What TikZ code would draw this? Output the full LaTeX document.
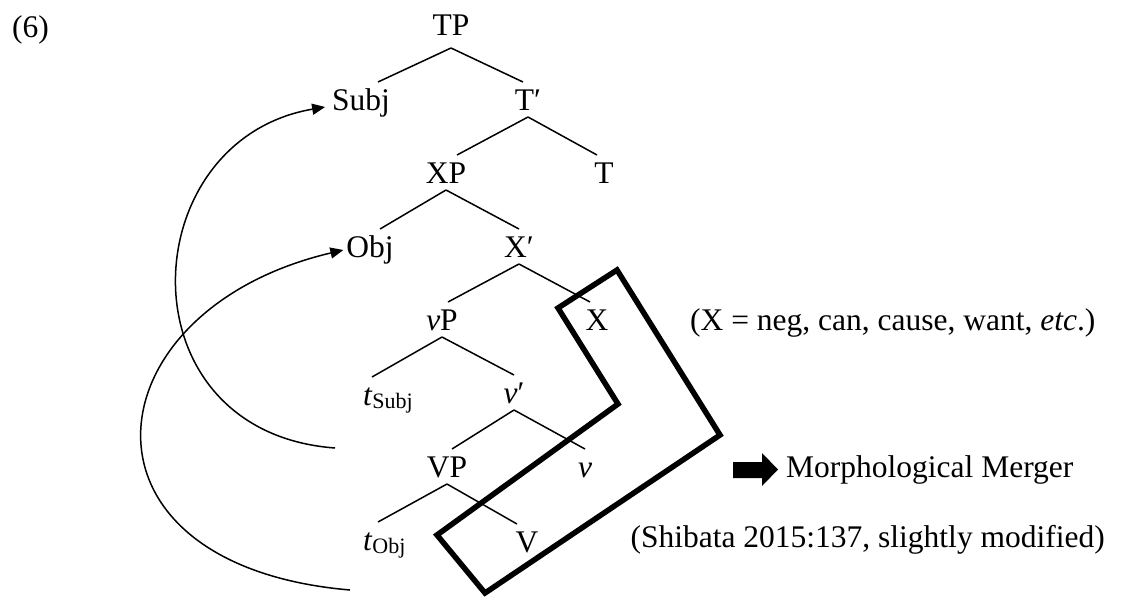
\documentclass[tikz,border=0pt]{standalone}
\usepackage{fontspec}
\setmainfont{Liberation Serif}
\usetikzlibrary{arrows.meta}
\begin{document}
\begin{tikzpicture}[x=1pt,y=-1pt,
  lab/.style={font=\fontsize{31.5}{38}\selectfont, inner sep=0pt, outer xsep=0pt, outer ysep=7pt, text height=21pt, text depth=0pt, anchor=base},
  txt/.style={font=\fontsize{31.5}{38}\selectfont, inner sep=0pt},
  br/.style={line width=1.5pt},
  mv/.style={line width=1.5pt, -{Triangle[length=13pt,width=11pt]}},
  boxline/.style={line width=5.5pt, line join=miter}]
\useasboundingbox (0,0) rectangle (1124,598);
% example number
\node[txt, anchor=base west] (num) at (12,37) {(6)};
% tree nodes
\node[lab] (TP) at (451,35) {TP};
\node[lab] (Subj) at (361,110) {Subj};
\node[lab] (Tb) at (528,110) {T′};
\node[lab] (XP) at (446,183) {XP};
\node[lab] (T) at (604,183) {T};
\node[lab] (Obj) at (370,257) {Obj};
\node[lab] (Xb) at (519,257) {X′};
\node[lab] (vP) at (442,330) {\textit{v}P};
\node[lab] (X) at (597,330) {X};
\node[lab, anchor=base west] (tSubj) at (363,405) {\textit{t}\raisebox{-3pt}{\fontsize{22}{26}\selectfont Subj}};
\node[lab] (vb) at (514,403) {\textit{v}′};
\node[lab] (VP) at (447,477) {VP};
\node[lab] (v) at (585,477) {\textit{v}};
\node[lab, anchor=base west] (tObj) at (363,550) {\textit{t}\raisebox{-3pt}{\fontsize{22}{26}\selectfont Obj}};
\node[lab] (V) at (527,552) {V};
% branches
\draw[br] ([yshift=-6pt]TP.south) -- ([xshift=17pt]Subj.north);
\draw[br] ([yshift=-6pt]TP.south) -- ([xshift=-5pt]Tb.north);
\draw[br] (Tb.south) -- ([xshift=11pt]XP.north);
\draw[br] (Tb.south) -- ([xshift=-7pt]T.north);
\draw[br] (XP.south) -- ([xshift=10pt]Obj.north);
\draw[br] (XP.south) -- (Xb.north);
\draw[br] (Xb.south) -- ([xshift=6pt]vP.north);
\draw[br] (Xb.south) -- ([xshift=-7pt]X.north);
\draw[br] (vP.south) -- ([xshift=9pt]tSubj.north west);
\draw[br] (vP.south) -- (vb.north);
\draw[br] (vb.south) -- ([xshift=5pt]VP.north);
\draw[br] (vb.south) -- (v.north);
\draw[br] (VP.south) -- ([xshift=15pt]tObj.north west);
\draw[br] (VP.south) -- ([xshift=-10pt]V.north);
% movement arrows
\coordinate (sStart) at (335,448);
\coordinate (oStart) at (350,590);
\draw[mv] (sStart) .. controls (120,432) and (132,140) .. ([xshift=-7pt,yshift=3pt]Subj.base west);
\draw[mv] (oStart) .. controls (60,565) and (88,310) .. ([xshift=-3pt,yshift=7pt]Obj.base west);
% thick box
\draw[boxline] (558,308) -- (617,270) -- (720,435) -- (485,593) -- (437,535) -- (618,404) -- cycle;
% right-hand texts
\node[txt, anchor=base west] (note) at (690,330) {(X = neg, can, cause, want, \textit{etc}.)};
\fill (733,462) -- (762,462) -- (762,453) -- (778,469.5) -- (762,486) -- (762,478) -- (733,478) -- cycle;
\node[txt, anchor=base west] (mm) at (786,477) {Morphological Merger};
\node[txt, anchor=base east] (src) at (1105,547) {(Shibata 2015:137, slightly modified)};
\end{tikzpicture}
\end{document}
